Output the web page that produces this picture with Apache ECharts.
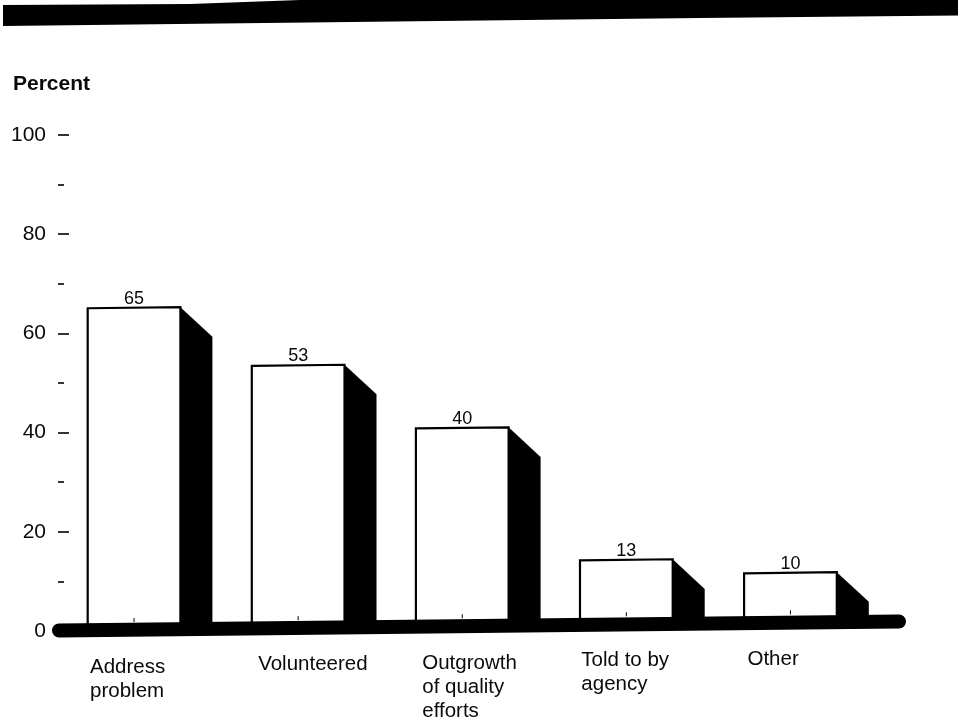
<!DOCTYPE html>
<html><head><meta charset="utf-8">
<style>html,body{margin:0;padding:0;background:#fff}#c{width:960px;height:723px}</style>
<script src="https://cdn.jsdelivr.net/npm/echarts@6/dist/echarts.min.js"></script>
</head><body><div id="c"></div>
<script>
const categories = ['Address\nproblem','Volunteered','Outgrowth\nof quality\nefforts','Told to by\nagency','Other'];
const values = [65,53,40,13,10];
const yTicks = [0,20,40,60,80,100];
const font = '"Liberation Sans", Arial, sans-serif';
const TILT = 0.0118;        // the scan is very slightly rotated
const labelShift = [[0,-44],[-3,-40],[-4,-40],[-7,-45],[-8,-43]];
const chart = echarts.init(document.getElementById('c'), null, {renderer:'canvas'});
const sk = (x,y)=>[x, y-(x-58)*TILT];
chart.setOption({
  animation:false,
  backgroundColor:'#fff',
  grid:{left:52,right:87.5,top:135,bottom:88.5,containLabel:false},
  xAxis:{type:'category',
    data:categories.map((c,i)=>({value:c,textStyle:{align:'left',verticalAlign:'top',padding:[labelShift[i][0],0,0,labelShift[i][1]]}})),
    axisLine:{show:false},axisTick:{show:false},
    axisLabel:{interval:0,align:'left',verticalAlign:'top',margin:24,fontFamily:font,fontSize:20.5,lineHeight:24,color:'#0a0a0a',hideOverlap:false}},
  yAxis:{type:'value',min:0,max:100,interval:20,offset:-6,
    axisLine:{show:false},splitLine:{show:false},minorSplitLine:{show:false},
    axisTick:{show:true,inside:true,length:11,lineStyle:{color:'#000',width:1.6}},
    minorTick:{show:true,splitNumber:2,length:6,lineStyle:{color:'#000',width:1.6}},
    axisLabel:{margin:12,fontFamily:font,fontSize:21,color:'#0a0a0a',
      formatter:v=>yTicks.includes(v)?String(v):''}},
  graphic:[
    {type:'polygon',z:50,shape:{points:[[3,5],[190,4],[300,0],[958,0],[958,15.5],[700,18],[3,26]]},style:{fill:'#000'}},
    {type:'text',z:50,x:13,y:74,style:{text:'Percent',font:'bold 21px '+font,fill:'#0a0a0a'}},
    {type:'line',z:50,shape:{x1:59,y1:630.5,x2:899,y2:621.5},style:{stroke:'#000',lineWidth:14,lineCap:'round'}}
  ],
  series:[{
    type:'custom',
    coordinateSystem:'cartesian2d',
    data:values.map((v,i)=>[i,v]),
    clip:false,
    renderItem:(params,api)=>{
      const top=api.coord([api.value(0),api.value(1)]);
      const base=api.coord([api.value(0),0]);
      const w=api.size([1,0])[0]*0.565;
      const xL=top[0]-w/2,xR=top[0]+w/2,dx=32,dy=30;
      const pts=(arr)=>arr.map(p=>sk(p[0],p[1]));
      const c=sk(top[0],base[1]);
      const t=sk(top[0],top[1]);
      return {type:'group',children:[
        {type:'polygon',shape:{points:pts([[xR,top[1]],[xR+dx,top[1]+dy],[xR+dx,base[1]],[xR,base[1]]])},style:{fill:'#000'}},
        {type:'polygon',shape:{points:pts([[xL,top[1]],[xR,top[1]],[xR,base[1]],[xL,base[1]]])},style:{fill:'#fff',stroke:'#000',lineWidth:2.2}},
        {type:'line',shape:{x1:c[0],y1:c[1]-12,x2:c[0],y2:c[1]-8},style:{stroke:'#000',lineWidth:1}},
        {type:'text',x:t[0],y:t[1]-9,style:{text:String(api.value(1)),font:'18px '+font,fill:'#0a0a0a',align:'center',verticalAlign:'middle'}}
      ]};
    }
  }]
});
</script></body></html>
